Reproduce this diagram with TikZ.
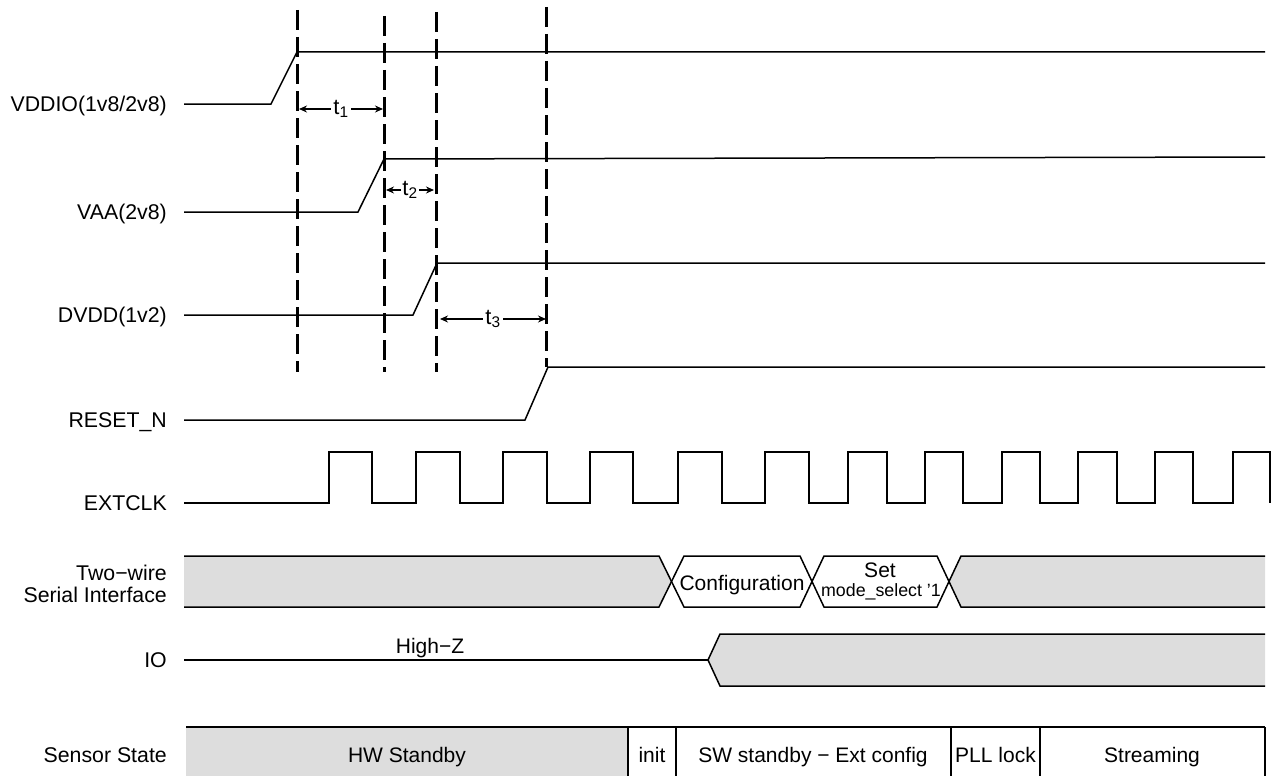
\documentclass[tikz,border=0pt]{standalone}
\usepackage{fontspec}
\setmainfont{Liberation Sans}
\usetikzlibrary{arrows.meta}
\definecolor{busgray}{RGB}{221,221,221}
\tikzset{
  sig/.style={line width=1.5pt, line join=miter},
  guide/.style={line width=3pt, dash pattern=on 20pt off 7pt},
  lbl/.style={anchor=base east, inner sep=0pt, font=\fontsize{21.3}{24}\selectfont},
  txt/.style={anchor=base, inner sep=0pt, font=\fontsize{21}{24}\selectfont},
  smalltxt/.style={anchor=base, inner sep=0pt, font=\fontsize{17.8}{20}\selectfont},
  tarrow/.style={line width=1.5pt, {Stealth[length=8pt,width=7pt]}-{Stealth[length=8pt,width=7pt]}},
  tlabel/.style={fill=white, inner sep=2pt, font=\fontsize{22}{24}\selectfont},
}
\begin{document}
\begin{tikzpicture}[x=1pt,y=-1pt]
\useasboundingbox (0,0) rectangle (1272,776);

% signal labels
\node[lbl] (lvddio) at (167,111) {VDDIO(1v8/2v8)};
\node[lbl] (lvaa) at (167,219) {VAA(2v8)};
\node[lbl] (ldvdd) at (167,322) {DVDD(1v2)};
\node[lbl] (lreset) at (167,427) {RESET\_N};
\node[lbl] (lclk) at (167,510) {EXTCLK};
\node[lbl] (ltw1) at (167,580) {Two−wire};
\node[lbl] (ltw2) at (167,602) {Serial Interface};
\node[lbl] (lio) at (167,667) {IO};
\node[lbl] (lss) at (167,762) {Sensor State};

% guide lines
\draw[guide] (297,10) -- (297,372);
\draw[guide] (384,16) -- (384,372);
\draw[guide] (436,12) -- (436,372);
\draw[guide] (546,7) -- (546,367);

% power rails
\draw[sig] (184,104) -- (271,104) -- (297,52) -- (1265,52);
\draw[sig] (184,212) -- (358,212) -- (384,159) -- (1265,157);
\draw[sig] (184,315) -- (413,315) -- (437,263) -- (1265,263);
\draw[sig] (184,420) -- (525,420) -- (548,367) -- (1265,367);

% timing arrows
\coordinate (t1a) at (299,109); \coordinate (t1b) at (383,109);
\coordinate (t2a) at (386,190); \coordinate (t2b) at (434,190);
\coordinate (t3a) at (440,319); \coordinate (t3b) at (546,319);
\draw[tarrow] (t1a) -- node[tlabel] (t1) {t\textsubscript{1}} (t1b);
\draw[tarrow] (t2a) -- node[tlabel, inner sep=1pt] (t2) {t\textsubscript{2}} (t2b);
\draw[tarrow] (t3a) -- node[tlabel] (t3) {t\textsubscript{3}} (t3b);

% EXTCLK
\draw[sig] (184,503) foreach \r/\f in {329/372,416/460,503/547,590/633,678/722,765/809,848/887,925/963,1002/1040,1078/1117,1155/1193,1233/1270}
  { -- (\r,503) -- (\r,452) -- (\f,452) -- (\f,503) };

% Two-wire serial interface
\fill[busgray] (184,556) -- (659,556) -- (671.5,581.5) -- (659,607) -- (184,607) -- cycle;
\fill[busgray] (961,556) -- (1265,556) -- (1265,607) -- (961,607) -- (949,581.5) -- cycle;
\draw[sig] (184,556) -- (659,556) -- (684,607) -- (800,607) -- (824,556) -- (937,556) -- (961,607) -- (1265,607);
\draw[sig] (184,607) -- (659,607) -- (684,556) -- (800,556) -- (824,607) -- (937,607) -- (961,556) -- (1265,556);
\node[txt] (cfg) at (742,590) {Configuration};
\node[txt] (set1) at (880,577) {Set};
\node[smalltxt] (set2) at (881,596) {mode\_select '1};

% IO
\fill[busgray] (720,634) -- (1265,634) -- (1265,686) -- (720,686) -- (708,660) -- cycle;
\draw[sig] (184,660) -- (708,660);
\draw[sig] (1265,634) -- (720,634) -- (708,660) -- (720,686) -- (1265,686);
\node[txt] (hiz) at (430,653) {High−Z};

% Sensor state
\fill[busgray] (186,727) rectangle (628,776);
\draw[sig] (186,727) -- (1265,727);
\foreach \x in {628,676,951,1040,1265} \draw[sig] (\x,727) -- (\x,776);
\node[txt] (s1) at (407,762) {HW Standby};
\node[txt] (s2) at (652,762) {init};
\node[txt] (s3) at (813,762) {SW standby − Ext config};
\node[txt] (s4) at (995.5,762) {PLL lock};
\node[txt] (s5) at (1152,762) {Streaming};
\end{tikzpicture}
\end{document}
